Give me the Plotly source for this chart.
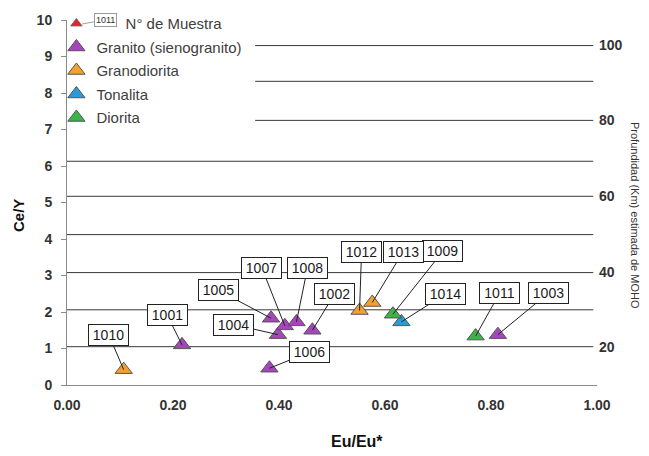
import plotly.graph_objects as go

# ---------------- data ----------------
sample_ids = ["1001", "1002", "1003", "1004", "1005", "1006", "1007", "1008",
              "1009", "1010", "1011", "1012", "1013", "1014"]
eu_eu = [0.217, 0.463, 0.813, 0.398, 0.385, 0.382, 0.411, 0.433,
         0.615, 0.107, 0.771, 0.552, 0.576, 0.631]
ce_y = [1.10, 1.50, 1.38, 1.38, 1.83, 0.46, 1.62, 1.73,
        1.94, 0.42, 1.34, 2.04, 2.26, 1.73]
rock_type = ["Granito (sienogranito)"] * 8 + ["Diorita", "Granodiorita", "Diorita",
             "Granodiorita", "Granodiorita", "Tonalita"]

rock_types = ["Granito (sienogranito)", "Granodiorita", "Tonalita", "Diorita"]
rock_colors = ["#A546BC", "#F2A12E", "#2C9AD6", "#3DB449"]

# estimated MOHO depth (km) lines and their Ce/Y level
moho_depth = [20, 30, 40, 50, 60, 70, 80, 90, 100]
moho_cey = [1.05, 2.06, 3.08, 4.12, 5.17, 6.13, 7.25, 8.32, 9.30]
moho_labeled = [20, 40, 60, 80, 100]

x_ticks = [0.0, 0.2, 0.4, 0.6, 0.8, 1.0]
y_ticks = list(range(0, 11))

legend_sample_id = "1011"

# ---------------- layout constants ----------------
OFF = 8                      # page body margin of the html page
W, H = 649 - OFF, 456 - OFF
ML, MT, PW, PH = 59, 12, 530, 365
MR, MB = W - ML - PW, H - MT - PH
FONT = "Liberation Sans, Arial, sans-serif"
TXT = "#333333"


def px_to_paper(px, py):
    """window pixel -> paper coordinates"""
    return (px - OFF - ML) / PW, (H - MB - (py - OFF)) / PH


# label box offsets (pixels) from each point
label_offsets = {
    "1001": (-15, -30), "1002": (22, -36), "1003": (51, -42), "1004": (-44, -10),
    "1005": (-53, -28), "1006": (40, -16), "1007": (-23, -58), "1008": (11, -54),
    "1009": (50, -63), "1010": (-15, -35), "1011": (24, -43), "1012": (2, -59),
    "1013": (31, -51), "1014": (44, -28),
}
# lines hidden behind the legend start further right
line_start = {80: 0.355, 90: 0.355, 100: 0.355}
line_end = 0.993

fig = go.Figure()

# legend-only entry for sample number
fig.add_trace(go.Scatter(
    x=[None], y=[None], mode="markers",
    name="\u00a0" * 7 + "N° de Muestra",
    marker=dict(symbol="triangle-up", size=10, color="#E0262A",
                line=dict(color="#666666", width=0.8)),
    legendgroup="g0",
))

for i, (rt, col) in enumerate(zip(rock_types, rock_colors)):
    xs = [x for x, r in zip(eu_eu, rock_type) if r == rt]
    ys = [y for y, r in zip(ce_y, rock_type) if r == rt]
    fig.add_trace(go.Scatter(
        x=xs, y=ys, mode="markers", name=rt, legendgroup="g%d" % (i + 1),
        marker=dict(symbol="triangle-up", size=15, color=col,
                    line=dict(color="#555555", width=1)),
    ))

# dummy trace so the right-hand depth axis is drawn
fig.add_trace(go.Scatter(x=[None], y=[None], yaxis="y2", showlegend=False,
                         hoverinfo="skip"))

# MOHO lines
for d, c in zip(moho_depth, moho_cey):
    fig.add_shape(type="line", xref="x", yref="y",
                  x0=line_start.get(d, 0.0), x1=line_end, y0=c, y1=c,
                  line=dict(color="#3a3a3a", width=1), layer="below")

# sample labels
for sid, x, y in zip(sample_ids, eu_eu, ce_y):
    ax, ay = label_offsets[sid]
    fig.add_annotation(
        x=x, y=y, xref="x", yref="y", text=sid, showarrow=True,
        arrowhead=0, arrowwidth=1, arrowcolor="#222222", ax=ax, ay=ay,
        standoff=0, startstandoff=0,
        bordercolor="#222222", borderwidth=1, borderpad=1.5, bgcolor="white",
        width=36, height=17,
        font=dict(family=FONT, size=14, color="#1a1a1a"),
    )

# small sample-number box in the legend
lx, ly = px_to_paper(82, 24)
fig.add_annotation(
    x=lx, y=ly, xref="paper", yref="paper", text=legend_sample_id, showarrow=True,
    arrowhead=0, arrowwidth=0.8, arrowcolor="#888888", ax=23, ay=-4,
    standoff=0, bordercolor="#999999", borderwidth=1, borderpad=1, bgcolor="white",
    font=dict(family=FONT, size=9, color="#333333"),
)

# axis titles
tx, ty = px_to_paper(18, 216)
fig.add_annotation(xref="paper", yref="paper", x=tx, y=ty, xanchor="center",
                   yanchor="middle", text="<b>Ce/Y</b>", textangle=-90,
                   showarrow=False, font=dict(family=FONT, size=15, color="#111111"))
tx, ty = px_to_paper(357, 442)
fig.add_annotation(xref="paper", yref="paper", x=tx, y=ty, xanchor="center",
                   yanchor="middle", text="<b>Eu/Eu*</b>", showarrow=False,
                   font=dict(family=FONT, size=16, color="#111111"))
tx, ty = px_to_paper(635, 215)
fig.add_annotation(xref="paper", yref="paper", x=tx, y=ty,
                   text="Profundidad (Km) estimada de MOHO",
                   textangle=90, showarrow=False, xanchor="center", yanchor="middle",
                   font=dict(family=FONT, size=11, color="#333333"))

fig.update_layout(
    width=W, height=H, margin=dict(l=ML, r=MR, t=MT, b=MB, autoexpand=False),
    paper_bgcolor="white", plot_bgcolor="white",
    font=dict(family=FONT, color=TXT),
    showlegend=True,
    legend=dict(x=-0.02, y=1.035, xanchor="left", yanchor="top",
                bgcolor="rgba(0,0,0,0)", borderwidth=0,
                font=dict(family=FONT, size=15, color="#404040"),
                traceorder="grouped", tracegroupgap=1, itemclick=False),
    xaxis=dict(range=[0, 1], tickvals=x_ticks, ticktext=["%.2f" % v for v in x_ticks],
               showgrid=False, zeroline=False, showline=True, linecolor="#8a8a8a",
               linewidth=1, ticks="", ticklabelstandoff=7,
               tickfont=dict(family=FONT, size=14, color=TXT, weight="bold")),
    yaxis=dict(range=[0, 10], tickvals=y_ticks, showgrid=False, zeroline=False,
               showline=True, linecolor="#8a8a8a", linewidth=1, ticks="outside",
               ticklen=5, tickcolor="#8a8a8a", ticklabelstandoff=6,
               tickfont=dict(family=FONT, size=14, color=TXT, weight="bold")),
    yaxis2=dict(range=[0, 10], overlaying="y", side="right",
                tickvals=[c for d, c in zip(moho_depth, moho_cey) if d in moho_labeled],
                ticktext=[str(d) for d in moho_depth if d in moho_labeled],
                showgrid=False, zeroline=False, showline=False, ticks="",
                ticklabelstandoff=1,
                tickfont=dict(family=FONT, size=14, color=TXT, weight="bold")),
)

fig.write_html("out.html")
